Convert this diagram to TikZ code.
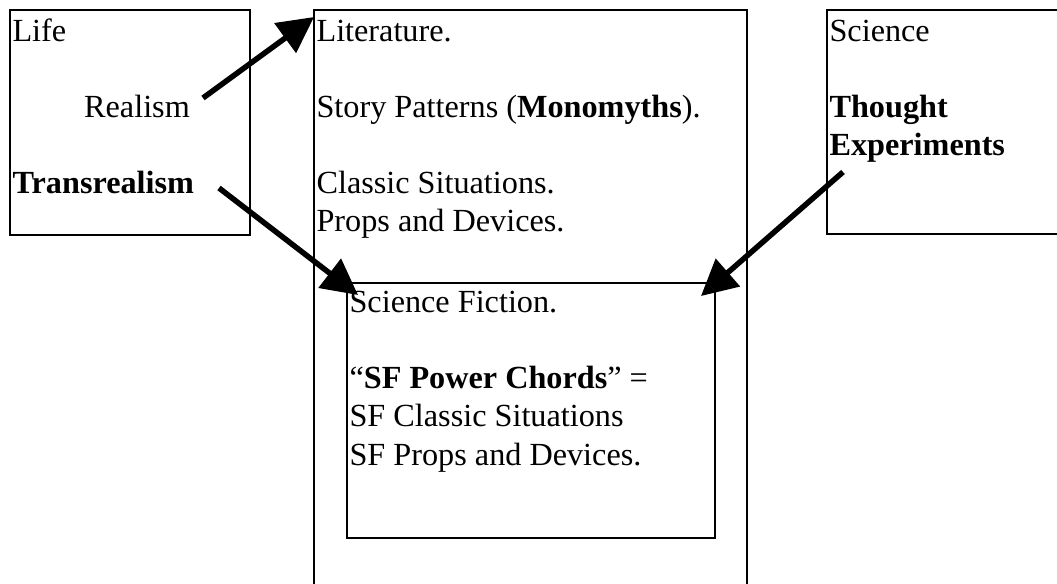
\documentclass[tikz,border=0pt]{standalone}
\usepackage{fontspec}
\setmainfont{Liberation Serif}
\usetikzlibrary{arrows.meta,fit}

\tikzset{
  panel/.style={draw, line width=0.7pt, inner sep=0pt},
  words/.style={anchor=base west, inner sep=0pt, align=left,
    font=\fontsize{11.7pt}{13.8pt}\selectfont},
  bigarrow/.style={line width=2pt, -{Triangle[length=13pt,width=13pt]}}
}

\begin{document}
\begin{tikzpicture}[x=0.363pt, y=-0.363pt]
  \useasboundingbox (0,0) rectangle (1057,584);
  % the four boxes
  \node (life) [panel, fit={(10,10) (250,235)}] {};
  \node (lit) [panel, fit={(314,10) (747,600)}] {};
  \node (sci) [panel, fit={(827,10) (1065,234)}] {};
  \node (sf) [panel, fit={(347,283) (715,538)}] {};
  % texts (placed at the baseline of their last line)
  \node (lifetext) [words] at (12,194) {Life\\[13.8pt]\hspace*{26pt}Realism\\[13.8pt]\textbf{Transrealism}};
  \node (littext) [words] at (316,232) {Literature.\\[13.8pt]Story Patterns (\textbf{Monomyths}).\\[13.8pt]Classic Situations.\\Props and Devices.};
  \node (scitext) [words] at (829,156) {Science\\[13.8pt]\textbf{Thought}\\\textbf{Experiments}};
  \node (sftext) [words] at (349,465) {Science Fiction.\\[13.8pt]``\textbf{SF Power Chords}'' =\\SF Classic Situations\\SF Props and Devices.};
  % arrow ends
  \coordinate (realism) at (203,98);
  \coordinate (transrealism) at (219,188);
  \coordinate (thought) at (843,172);
  \coordinate (littip) at ([shift={(1,8)}]lit.north west);
  \coordinate (sfleft) at ([shift={(12,13)}]sf.north west);
  \coordinate (sfright) at ([shift={(-15,14)}]sf.north east);
  \draw[bigarrow] (realism) -- (littip);
  \draw[bigarrow] (transrealism) -- (sfleft);
  \draw[bigarrow] (thought) -- (sfright);
\end{tikzpicture}
\end{document}
